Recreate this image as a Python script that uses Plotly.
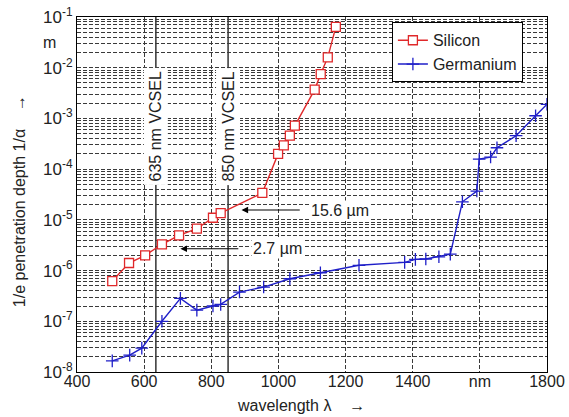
import math
import plotly.graph_objects as go

# ---- data ----
si_wavelength = [505, 555, 603, 653, 704, 757, 805, 828, 952, 999, 1016, 1034, 1049, 1108, 1126, 1147, 1171]
si_depth = [6.2e-7, 1.41e-6, 2.0e-6, 3.3e-6, 4.95e-6, 6.7e-6, 1.1e-5, 1.36e-5, 3.4e-5,
            2.0e-4, 2.95e-4, 4.6e-4, 7.2e-4, 3.7e-3, 7.5e-3, 1.6e-2, 6.4e-2]

ge_wavelength = [505, 557, 593, 653, 708, 757, 805, 828, 884, 956, 1034, 1125, 1240, 1376, 1408,
                 1439, 1478, 1512, 1548, 1591, 1598, 1632, 1651, 1708, 1766, 1800]
ge_depth = [1.66e-8, 2.15e-8, 2.96e-8, 1.0e-7, 2.83e-7, 1.66e-7, 2.0e-7, 2.15e-7, 3.77e-7, 4.73e-7,
            6.9e-7, 9.05e-7, 1.27e-6, 1.45e-6, 1.66e-6, 1.69e-6, 1.87e-6, 2.11e-6, 2.27e-5, 3.7e-5,
            1.58e-4, 1.73e-4, 2.64e-4, 4.56e-4, 1.13e-3, 1.9e-3]

vcsel_wavelengths = [635, 850]
vcsel_labels = ["635 nm VCSEL", "850 nm VCSEL"]

depth_marks = [15.6e-6, 2.7e-6]
depth_mark_labels = ["15.6 µm", "2.7 µm"]
depth_arrow_tip = [890, 708]
depth_arrow_tail = [1068, 885]
depth_text_x = [1182, 997]

x_tick_vals = [400, 600, 800, 1000, 1200, 1400, 1600, 1800]
x_tick_text = ["400", "600", "800", "1000", "1200", "1400", "nm", "1800"]
decades = [-8, -7, -6, -5, -4, -3, -2, -1]

# ---- build y ticks (decades + minor gridlines) ----
y_tick_vals, y_tick_text = [], []
for d in decades:
    y_tick_vals.append(10.0 ** d)
    y_tick_text.append("10<sup>%d</sup>" % d)
    if d < -1:
        for k in range(2, 10):
            y_tick_vals.append(k * 10.0 ** d)
            y_tick_text.append("")

FONT = "Liberation Sans, Arial, sans-serif"
TXT = "#222222"
RED = "#e0282a"
BLUE = "#1f1fc8"
GRID = "#3a3a3a"
DASH = "4px,2px"

fig = go.Figure()

fig.add_trace(go.Scatter(
    x=si_wavelength, y=si_depth, mode="lines+markers", name="Silicon",
    line=dict(color=RED, width=1.4),
    marker=dict(symbol="square", size=9, color="white", line=dict(color=RED, width=1.3)),
))
fig.add_trace(go.Scatter(
    x=ge_wavelength, y=ge_depth, mode="lines+markers", name="Germanium",
    line=dict(color=BLUE, width=1.4),
    marker=dict(symbol="cross-thin", size=9, color=BLUE, line=dict(color=BLUE, width=1.3)),
))

# VCSEL reference lines and labels
for wl, lab in zip(vcsel_wavelengths, vcsel_labels):
    fig.add_shape(type="line", xref="x", yref="paper", x0=wl, x1=wl, y0=0, y1=1,
                  line=dict(color="black", width=1.2), layer="below")
    fig.add_annotation(x=wl, y=-3.16, xref="x", yref="y", text=lab, textangle=-90,
                       xanchor="center", yanchor="middle",
                       showarrow=False, bgcolor="white", borderpad=3,
                       font=dict(family=FONT, size=16, color=TXT))

# depth arrows
for val, lab, tip, tail, tx in zip(depth_marks, depth_mark_labels, depth_arrow_tip,
                                   depth_arrow_tail, depth_text_x):
    ylog = math.log10(val)
    fig.add_annotation(x=tip, y=ylog, ax=tail, ay=ylog, xref="x", yref="y",
                       axref="x", ayref="y", text="", showarrow=True,
                       arrowhead=2, arrowsize=1.2, arrowwidth=1.1, arrowcolor="black")
    fig.add_annotation(x=tx, y=ylog, xref="x", yref="y", text=lab, showarrow=False,
                       xanchor="center", yanchor="middle",
                       bgcolor="white", borderpad=1,
                       font=dict(family=FONT, size=16, color=TXT))

# unit label and axis titles
fig.add_annotation(x=-0.058, y=-1.5, xref="paper", yref="y", text="m", showarrow=False,
                   xanchor="center", yanchor="middle",
                   font=dict(family=FONT, size=16, color=TXT))
fig.add_annotation(x=0.477, y=-0.093, xref="paper", yref="paper",
                   text="wavelength λ &nbsp;&nbsp;&nbsp;→", showarrow=False,
                   xanchor="center", yanchor="middle",
                   font=dict(family=FONT, size=16, color=TXT))
fig.add_annotation(x=-0.121, y=0.4817, xref="paper", yref="paper",
                   text="1/e penetration depth 1/α &nbsp;&nbsp;&nbsp;→", textangle=-90,
                   xanchor="center", yanchor="middle",
                   showarrow=False, font=dict(family=FONT, size=16, color=TXT))

fig.update_xaxes(
    range=[400, 1800], tickvals=x_tick_vals, ticktext=x_tick_text,
    showgrid=True, gridcolor=GRID, gridwidth=1, griddash=DASH,
    showline=True, linecolor="black", linewidth=1, mirror=True,
    ticks="", zeroline=False, automargin=False, ticklabelstandoff=-5,
    ticklabeloverflow="allow",
    tickfont=dict(family=FONT, size=16, color=TXT),
)
fig.update_yaxes(
    type="log", range=[-8, -1], tickvals=y_tick_vals, ticktext=y_tick_text,
    showgrid=True, gridcolor=GRID, gridwidth=1, griddash=DASH,
    showline=True, linecolor="black", linewidth=1, mirror=True,
    ticks="", zeroline=False, automargin=False, ticklabeloverflow="allow",
    tickfont=dict(family=FONT, size=17, color=TXT),
)

fig.update_layout(
    width=569, height=417,
    margin=dict(l=77, r=22, t=17, b=45, autoexpand=False),
    paper_bgcolor="white", plot_bgcolor="white",
    font=dict(family=FONT, color=TXT),
    legend=dict(x=0.670, y=0.985, xanchor="left", yanchor="top",
                bgcolor="white", bordercolor="black", borderwidth=1,
                font=dict(family=FONT, size=16, color=TXT),
                itemwidth=30, tracegroupgap=0),
    showlegend=True,
)

# remove the default page margin so the 569x417 figure fills the window exactly
fig.write_html("out.html", config={"displayModeBar": False},
               post_script="document.body.style.margin='0';document.body.style.padding='0';")
